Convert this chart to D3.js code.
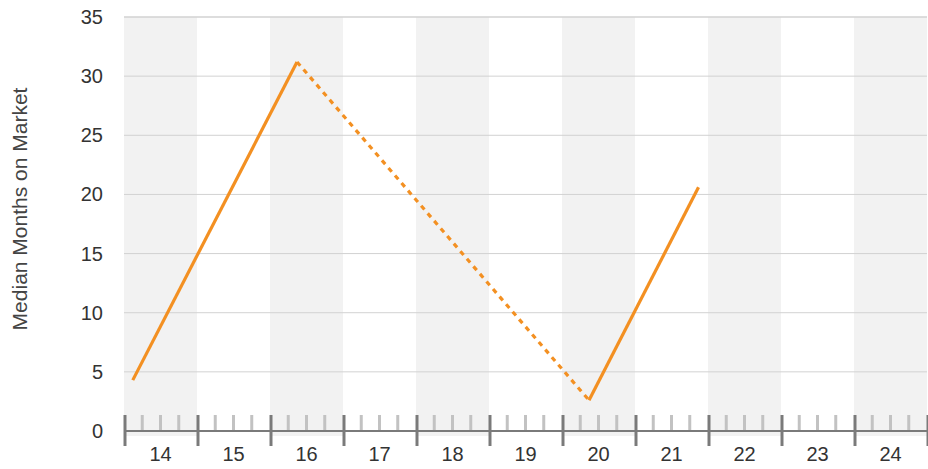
<!DOCTYPE html>
<html>
<head>
<meta charset="utf-8">
<script src="https://cdn.jsdelivr.net/npm/d3@7"></script>
<style>
  body { margin: 0; background: #fff; }
  svg { display: block; font-family: "Helvetica Neue", Helvetica, Arial, "Liberation Sans", sans-serif; }
</style>
</head>
<body>
<div id="chart"></div>
<script>
// data
const years = [14, 15, 16, 17, 18, 19, 20, 21, 22, 23, 24]
const pointX = [14.12, 16.37, 20.37, 21.87]
const pointY = [4.3, 31.2, 2.6, 20.6]
const segmentDashed = [false, true, false]
const yTicks = [0, 5, 10, 15, 20, 25, 30, 35]

// dimensions
let dimensions = {
  width: 928,
  height: 469,
  margin: { top: 17, right: 1, bottom: 38, left: 124 },
}
dimensions.boundedWidth = dimensions.width - dimensions.margin.left - dimensions.margin.right
dimensions.boundedHeight = dimensions.height - dimensions.margin.top - dimensions.margin.bottom

const wrapper = d3.select("#chart")
  .append("svg")
    .attr("width", dimensions.width)
    .attr("height", dimensions.height)

const bounds = wrapper.append("g")
    .attr("transform", `translate(${dimensions.margin.left}, ${dimensions.margin.top})`)

// scales
const xScale = d3.scaleLinear()
  .domain([years[0], years[years.length - 1] + 1])
  .range([0, dimensions.boundedWidth])

const yScale = d3.scaleLinear()
  .domain([0, 35])
  .range([dimensions.boundedHeight, 0])

// alternating bands
bounds.append("g")
  .selectAll("rect")
  .data(years.filter((d, i) => i % 2 === 0))
  .join("rect")
    .attr("x", d => xScale(d))
    .attr("y", 0)
    .attr("width", d => xScale(d + 1) - xScale(d))
    .attr("height", dimensions.boundedHeight + 5)
    .attr("fill", "#f2f2f2")

// gridlines
bounds.append("g")
  .selectAll("line")
  .data(yTicks.filter(d => d > 0))
  .join("line")
    .attr("x1", 0)
    .attr("x2", dimensions.boundedWidth)
    .attr("y1", d => yScale(d))
    .attr("y2", d => yScale(d))
    .attr("stroke", "#d2d2d2")
    .attr("stroke-width", d => d === 35 ? 1.5 : 1)

// y axis labels
bounds.append("g")
  .selectAll("text")
  .data(yTicks)
  .join("text")
    .attr("x", -21)
    .attr("y", d => yScale(d))
    .attr("dy", "0.35em")
    .attr("text-anchor", "end")
    .attr("font-size", 20)
    .attr("fill", "#333")
    .text(d => d)

bounds.append("text")
  .attr("transform", `translate(${-97}, ${dimensions.boundedHeight / 2 - 15}) rotate(-90)`)
  .attr("text-anchor", "middle")
  .attr("font-size", 21)
  .attr("fill", "#444")
  .text("Median Months on Market")

// x axis
const axisY = dimensions.boundedHeight
const xAxis = bounds.append("g")

const minorTicks = []
years.forEach(y => [0.25, 0.5, 0.75].forEach(f => minorTicks.push(y + f)))

xAxis.selectAll(".minor")
  .data(minorTicks)
  .join("line")
    .attr("class", "minor")
    .attr("x1", d => xScale(d))
    .attr("x2", d => xScale(d))
    .attr("y1", axisY - 16)
    .attr("y2", axisY)
    .attr("stroke", "#c2c2c2")
    .attr("stroke-width", 3)

xAxis.append("line")
  .attr("x1", 0)
  .attr("x2", dimensions.boundedWidth)
  .attr("y1", axisY)
  .attr("y2", axisY)
  .attr("stroke", "#7a7a7a")
  .attr("stroke-width", 2)

xAxis.selectAll(".major")
  .data(years.concat([years[years.length - 1] + 1]))
  .join("line")
    .attr("class", "major")
    .attr("x1", d => xScale(d) + 1)
    .attr("x2", d => xScale(d) + 1)
    .attr("y1", axisY - 16)
    .attr("y2", axisY + 15)
    .attr("stroke", "#7a7a7a")
    .attr("stroke-width", 3)

xAxis.selectAll(".label")
  .data(years)
  .join("text")
    .attr("class", "label")
    .attr("x", d => xScale(d + 0.5))
    .attr("y", axisY + 30)
    .attr("text-anchor", "middle")
    .attr("font-size", 20)
    .attr("fill", "#333")
    .text(d => d)

// line segments
const lineGenerator = d3.line()
  .x(d => xScale(d[0]))
  .y(d => yScale(d[1]))

segmentDashed.forEach((dashed, i) => {
  bounds.append("path")
    .attr("d", lineGenerator([[pointX[i], pointY[i]], [pointX[i + 1], pointY[i + 1]]]))
    .attr("fill", "none")
    .attr("stroke", "#f39022")
    .attr("stroke-width", 3.2)
    .attr("stroke-dasharray", dashed ? "5,5" : null)
})
</script>
</body>
</html>
